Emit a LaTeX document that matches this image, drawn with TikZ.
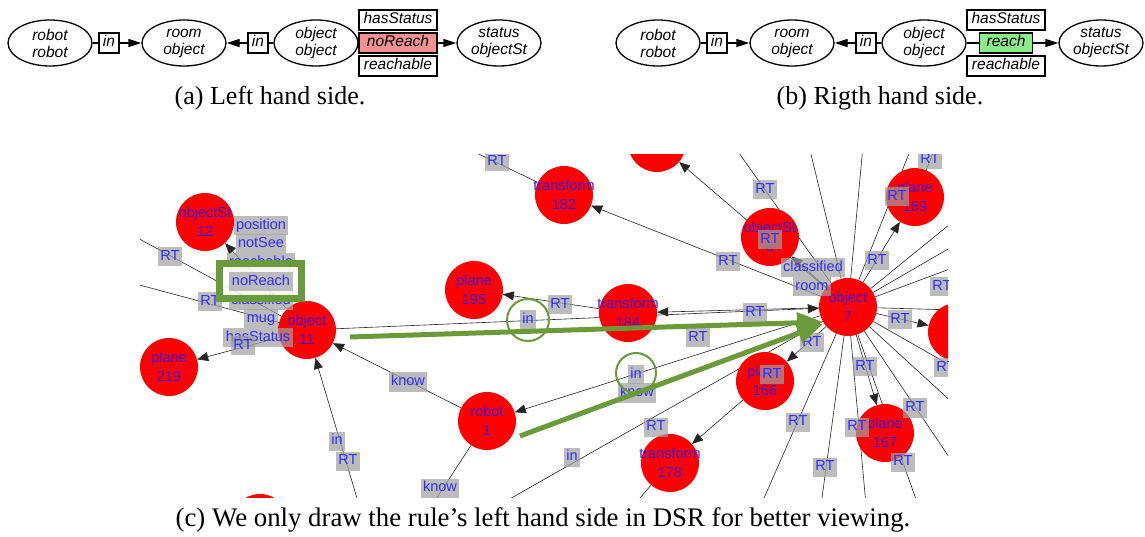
\documentclass[tikz,border=0pt]{standalone}
\usepackage{fontspec}
\setmainfont{Liberation Serif}
\newfontfamily\arialfont{Liberation Sans}
\usetikzlibrary{shapes.geometric,arrows.meta}
\pgfdeclarelayer{bg}
\pgfdeclarelayer{edgelayer}
\pgfsetlayers{bg,edgelayer,main}

\definecolor{reachred}{RGB}{241,145,145}
\definecolor{reachgreen}{RGB}{140,236,140}
\definecolor{dsrred}{RGB}{255,0,0}
\definecolor{dsrblue}{RGB}{48,44,255}
\definecolor{vtxblue}{RGB}{62,22,215}
\definecolor{dsrgray}{RGB}{160,160,160}
\definecolor{markgreen}{RGB}{106,154,58}

% two-line vertex caption that does not widen the circle
\newcommand{\vtxtext}[2]{\makebox[0pt]{#1}\\\makebox[0pt]{#2}}

\tikzset{
  ellnode/.style={ellipse, draw, line width=1.3bp, minimum width=84bp, minimum height=46bp,
    inner sep=0pt, align=center, font=\arialfont\itshape\fontsize{15.5bp}{17bp}\selectfont},
  relbox/.style={rectangle, draw, line width=1.2bp, inner xsep=4bp, inner ysep=0pt,
    minimum height=20bp, text height=11bp, text depth=3bp,
    font=\arialfont\itshape\fontsize{15.5bp}{17bp}\selectfont},
  stackbox/.style={relbox, minimum width=78bp},
  link/.style={line width=1.3bp},
  linktip/.style={link, -{Triangle[length=13bp,width=8bp]}},
  caption/.style={font=\fontsize{26bp}{30bp}\selectfont, inner sep=0pt},
  vtx/.style={circle, minimum size=58bp, inner sep=0pt, fill=dsrred, text=vtxblue,
    align=center, font=\arialfont\fontsize{14.5bp}{19bp}\selectfont},
  sgedge/.style={line width=0.6bp, draw=black!85},
  sgtip/.style={sgedge, -{Triangle[length=11bp,width=9bp]}},
  sglabel/.style={fill=dsrgray, fill opacity=0.7, text opacity=1, text=dsrblue,
    inner xsep=2.5bp, inner ysep=0pt, minimum height=19bp, text height=10.5bp, text depth=3bp,
    font=\arialfont\fontsize{14.5bp}{16bp}\selectfont},
  greenarrow/.style={draw=markgreen, line width=5bp, -{Triangle[length=26bp,width=20bp]}},
  greenring/.style={circle, draw=markgreen, line width=2bp, inner sep=0pt},
}

\begin{document}
\begin{tikzpicture}[x=1bp,y=-1bp]
\useasboundingbox (0,0) rectangle (1145,537);
\begin{pgfonlayer}{bg}
  \fill[white] (0,0) rectangle (1145,537);
\end{pgfonlayer}

% ---------- (a) left hand side ----------
\node[ellnode] (aRobot) at (50,43) {robot\\robot};
\node[relbox]  (aIn1)   at (109,43) {in};
\node[ellnode] (aRoom)  at (184,43) {room\\object};
\node[relbox]  (aIn2)   at (258,43) {in};
\node[ellnode] (aObj)   at (316,43) {object\\object};
\node[stackbox] (aHas)  at (398,20) {hasStatus};
\node[stackbox, fill=reachred] (aState) at (398,43) {noReach};
\node[stackbox] (aReach) at (398,66) {reachable};
\node[ellnode] (aStat)  at (499,43) {status\\objectSt};
\draw[link]    (aRobot) -- (aIn1);
\draw[linktip] (aIn1) -- (aRoom);
\draw[linktip] (aIn2) -- (aRoom);
\draw[link]    (aObj) -- (aIn2);
\draw[link]    (aObj) -- (aState);
\draw[linktip] (aState) -- (aStat);
\node[caption] (capA) at (270,98) {(a) Left hand side.};

% ---------- (b) right hand side ----------
\node[ellnode] (bRobot) at (658,43) {robot\\robot};
\node[relbox]  (bIn1)   at (717,43) {in};
\node[ellnode] (bRoom)  at (792,43) {room\\object};
\node[relbox]  (bIn2)   at (866,43) {in};
\node[ellnode] (bObj)   at (924,43) {object\\object};
\node[stackbox] (bHas)  at (1006,20) {hasStatus};
\node[relbox, inner xsep=7bp, fill=reachgreen] (bState) at (1006,43) {reach};
\node[stackbox] (bReach) at (1006,66) {reachable};
\node[ellnode] (bStat)  at (1101,43) {status\\objectSt};
\draw[link]    (bRobot) -- (bIn1);
\draw[linktip] (bIn1) -- (bRoom);
\draw[linktip] (bIn2) -- (bRoom);
\draw[link]    (bObj) -- (bIn2);
\draw[link]    (bObj) -- (bState);
\draw[linktip] (bState) -- (bStat);
\node[caption] (capB) at (880,98) {(b) Rigth hand side.};

% ---------- (c) DSR graph view ----------
\begin{scope}
\clip (140,155) rectangle (948,497);

% vertices
\node[vtx] (v180) at (657,143) {\vtxtext{}{180}};
\node[vtx] (v182) at (564,195) {\vtxtext{transform}{182}};
\node[vtx] (st12) at (205,222) {\vtxtext{objectSt}{12}};
\node[vtx] (p195) at (474,290) {\vtxtext{plane}{195}};
\node[vtx] (t184) at (628,313) {\vtxtext{transform}{184}};
\node[vtx] (st8)  at (770,237) {\vtxtext{objectSt}{8}};
\node[vtx] (p169) at (915,197) {\vtxtext{plane}{169}};
\node[vtx] (o7)   at (848,307) {\vtxtext{object}{7}};
\node[vtx] (o11)  at (307,330) {\vtxtext{object}{11}};
\node[vtx] (p219) at (169,367) {\vtxtext{plane}{219}};
\node[vtx] (r1)   at (487,421) {\vtxtext{robot}{1}};
\node[vtx] (p166) at (765,381) {\vtxtext{plane}{166}};
\node[vtx] (p167) at (885,433) {\vtxtext{plane}{167}};
\node[vtx] (t178) at (670,463) {\vtxtext{transform}{178}};
\node[vtx] (vR)   at (957,332) {};
\node[vtx] (vB)   at (260,523) {};

% loose ends of edges leaving the view
\coordinate (eT182) at (462,146);
\coordinate (eTopA) at (734,146);
\coordinate (eTopB) at (809,146);
\coordinate (eTopC) at (863,146);
\coordinate (eTopD) at (912,146);
\coordinate (eP169) at (936,146);
\coordinate (eR1) at (955,220);
\coordinate (eR2) at (955,245);
\coordinate (eR3) at (955,267);
\coordinate (eR4) at (955,310);
\coordinate (eR5) at (955,368);
\coordinate (eR6) at (955,405);
\coordinate (eR7) at (955,466);
\coordinate (eB1) at (761,505);
\coordinate (eB2) at (821,505);
\coordinate (eB3) at (866,505);
\coordinate (eB4) at (918,505);
\coordinate (eB5) at (499,505);
\coordinate (eB6) at (432,505);
\coordinate (eB7) at (359,505);
\coordinate (eB8) at (634,505);
\coordinate (eL1) at (132,235);
\coordinate (eL2) at (132,283);

\begin{pgfonlayer}{edgelayer}
  \clip (140,155) rectangle (948,497);
  \draw[sgtip]  (o7) -- (t184);
  \draw[sgtip]  (o11) -- (o7);
  \draw[sgtip]  (t184) -- (p195);
  \draw[sgtip]  (o7) -- (v182);
  \draw[sgedge] (v182) -- (eT182);
  \draw[sgtip]  (o7) -- (v180);
  \draw[sgtip]  (o7) -- (st8);
  \draw[sgedge] (o7) -- (eTopA);
  \draw[sgedge] (o7) -- (eTopB);
  \draw[sgedge] (o7) -- (eTopC);
  \draw[sgedge] (o7) -- (eTopD);
  \draw[sgtip]  (o7) -- (p169);
  \draw[sgedge] (p169) -- (eP169);
  \foreach \e in {eR1,eR2,eR3,eR4,eR5,eR6,eR7,eB1,eB2,eB3,eB4,eB5}
    \draw[sgedge] (o7) -- (\e);
  \draw[sgtip]  (o7) -- (vR);
  \draw[sgtip]  (o7) -- (p167);
  \draw[sgtip]  (o7) -- (p166);
  \draw[sgtip]  (p166) -- (t178);
  \draw[sgedge] (t178) -- (eB8);
  \draw[sgtip]  (o7) -- (r1);
  \draw[sgtip]  (r1) -- (o11);
  \draw[sgedge] (r1) -- (eB6);
  \draw[sgtip]  (eB7) -- (o11);
  \draw[sgtip]  (o11) -- (p219);
  \draw[sgtip]  (o11) -- (st12);
  \draw[sgedge] (eL1) -- (o11);
  \draw[sgedge] (eL2) -- (o11);
\end{pgfonlayer}

% edge labels
\foreach \x/\y/\t [count=\i] in {
  497/162/RT, 765/190/RT, 770/240/RT, 930/160/RT, 897/197/RT, 877/261/RT,
  728/262/RT, 813/268/classified, 812/287/room, 942/287/RT, 560/305/RT,
  755/313/RT, 900/320/RT, 528/320/in, 698/338/RT, 812/343/RT, 865/367/RT,
  946/368/RT, 772/375/RT, 636/375/in, 637/393/know, 408/382/know,
  915/408/RT, 798/422/RT, 857/427/RT, 656/427/RT, 572/457/in, 903/462/RT,
  825/467/RT, 337/441/in, 348/461/RT, 440/488/know, 170/257/RT, 210/302/RT,
  261/226/position, 261/244/notSee, 261/263/reachable, 261/301/classified,
  261/319/mug, 258/338/hasStatus, 243/346/RT}
  \node[sglabel] (lab\i) at (\x,\y) {\t};

% highlighted rule pattern
\draw[greenarrow] (350,337) coordinate (gS1) -- (823,322) coordinate (gE1);
\draw[greenarrow] (520,436) coordinate (gS2) -- (823,324) coordinate (gE2);
\node[greenring, minimum size=42bp] (gRing1) at (528,320) {};
\node[greenring, minimum size=40bp] (gRing2) at (636,373) {};
\node[draw=markgreen, line width=7bp, fill=white, fill opacity=0.85,
      minimum width=82bp, minimum height=35bp, inner sep=0pt] (gBox) at (260.5,281) {};
\node[sglabel] (labNoReach) at (261,282) {noReach};
\end{scope}

\node[caption, font=\fontsize{26.8bp}{30bp}\selectfont] (capC) at (543,520)
  {(c) We only draw the rule’s left hand side in DSR for better viewing.};
\end{tikzpicture}
\end{document}
